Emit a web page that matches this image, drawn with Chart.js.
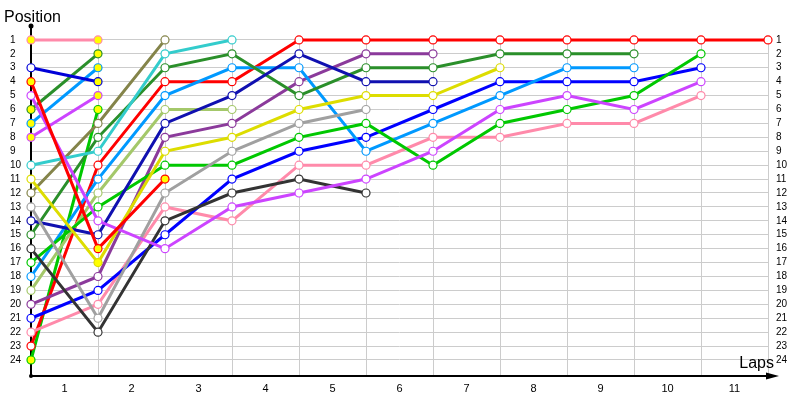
<!DOCTYPE html>
<html>
<head>
<meta charset="utf-8">
<script src="https://cdn.jsdelivr.net/npm/chart.js@4.4.0/dist/chart.umd.min.js"></script>
<style>
  html, body { margin: 0; padding: 0; background: #fff; }
  #wrap { width: 800px; height: 400px; }
</style>
</head>
<body>
<div id="wrap"><canvas id="lap_chart"></canvas></div>
<script>
const laps = [0, 1, 2, 3, 4, 5, 6, 7, 8, 9, 10, 11];   // lap 0 = starting grid
const lapLabels = ['1', '2', '3', '4', '5', '6', '7', '8', '9', '10', '11'];
const positions = [1, 2, 3, 4, 5, 6, 7, 8, 9, 10, 11, 12, 13, 14, 15, 16, 17, 18, 19, 20, 21, 22, 23, 24];

// position of each car at the end of each lap
const pinkA   = [1, 1];
const navyA   = [3, 4];
const redA    = [4, 16, 11];
const violetA = [5, 14, 16, 13, 12, 11, 9, 6, 5, 6, 4];
const forestA = [6, 2];
const skyA    = [7, 3];
const violetB = [8, 5];
const cyanA   = [10, 9, 2, 1];
const yellowA = [11, 17, 9, 8, 6, 5, 5, 3];
const oliveA  = [12, 7, 1];
const greyA   = [13, 21, 12, 9, 7, 6];
const navyB   = [14, 15, 7, 5, 2, 4, 4];
const forestB = [15, 8, 3, 2, 5, 3, 3, 2, 2, 2];
const blackA  = [16, 22, 14, 12, 11, 12];
const limeA   = [17, 13, 10, 10, 8, 7, 10, 7, 6, 5, 2];
const skyB    = [18, 11, 5, 3, 3, 9, 7, 5, 3, 3];
const sageA   = [19, 12, 6, 6];
const purpleA = [20, 18, 8, 7, 4, 2, 2];
const blueA   = [21, 19, 15, 11, 9, 8, 6, 4, 4, 4, 3];
const pinkB   = [22, 20, 13, 14, 10, 10, 8, 8, 7, 7, 5];
const redB    = [23, 10, 4, 4, 1, 1, 1, 1, 1, 1, 1, 1];
const limeB   = [24, 6];

// laps where the car is flagged (yellow dot)
const pinkAFlag   = [0, 1];
const navyAFlag   = [1];
const redAFlag    = [0, 1, 2];
const forestAFlag = [0, 1];
const skyAFlag    = [0, 1];
const violetBFlag = [0, 1];
const yellowAFlag = [1];
const limeBFlag   = [0, 1];

const cars = [
  { data: pinkA,   flag: pinkAFlag,   color: '#ff8aaa' },
  { data: navyA,   flag: navyAFlag,   color: '#0000d8' },
  { data: redA,    flag: redAFlag,    color: '#ff0000' },
  { data: violetA, flag: [],          color: '#cc44ff' },
  { data: forestA, flag: forestAFlag, color: '#2a8f2a' },
  { data: skyA,    flag: skyAFlag,    color: '#0099ff' },
  { data: violetB, flag: violetBFlag, color: '#cc44ff' },
  { data: cyanA,   flag: [],          color: '#33cccc' },
  { data: yellowA, flag: yellowAFlag, color: '#dddd00' },
  { data: oliveA,  flag: [],          color: '#84844a' },
  { data: greyA,   flag: [],          color: '#a0a0a0' },
  { data: navyB,   flag: [],          color: '#1010b0' },
  { data: forestB, flag: [],          color: '#2a8f2a' },
  { data: blackA,  flag: [],          color: '#333333' },
  { data: limeA,   flag: [],          color: '#00c800' },
  { data: skyB,    flag: [],          color: '#0099ff' },
  { data: sageA,   flag: [],          color: '#a4c86a' },
  { data: purpleA, flag: [],          color: '#8b3a9b' },
  { data: blueA,   flag: [],          color: '#0000ff' },
  { data: pinkB,   flag: [],          color: '#ff8aaa' },
  { data: redB,    flag: [],          color: '#ff0000' },
  { data: limeB,   flag: limeBFlag,   color: '#00c800' }
];

const datasets = cars.map(c => ({
  data: c.data.map((p, i) => ({ x: laps[i], y: p })),
  borderColor: c.color,
  borderWidth: 3,
  pointRadius: 4,
  pointBorderWidth: 1.2,
  pointBorderColor: c.color,
  pointBackgroundColor: c.data.map((p, i) => c.flag.includes(i) ? '#ffff00' : '#ffffff'),
  tension: 0,
  clip: false
}));

// axis lines, arrow, vertical grid and the two titles
const lapAxes = {
  id: 'lapAxes',
  beforeDatasetsDraw(chart) {
    const { ctx, chartArea, scales: { x, y } } = chart;
    ctx.save();
    ctx.strokeStyle = '#cccccc';
    ctx.lineWidth = 1;
    laps.slice(1).forEach(l => {
      const px = Math.round(x.getPixelForValue(l)) + 0.5;
      ctx.beginPath();
      ctx.moveTo(px, y.getPixelForValue(1));
      ctx.lineTo(px, chartArea.bottom);
      ctx.stroke();
    });
    const x0 = chartArea.left, y0 = chartArea.bottom;
    ctx.strokeStyle = '#000';
    ctx.fillStyle = '#000';
    ctx.lineWidth = 2;
    ctx.beginPath();
    ctx.moveTo(x0, chartArea.top);
    ctx.lineTo(x0, y0);
    ctx.lineTo(chartArea.right + 4, y0);
    ctx.stroke();
    ctx.beginPath();
    ctx.moveTo(chartArea.right + 11, y0);
    ctx.lineTo(chartArea.right - 2, y0 - 3.5);
    ctx.lineTo(chartArea.right - 2, y0 + 3.5);
    ctx.closePath();
    ctx.fill();
    ctx.beginPath(); ctx.arc(x0, chartArea.top, 2.5, 0, Math.PI * 2); ctx.fill();
    ctx.beginPath(); ctx.arc(x0, y0, 2, 0, Math.PI * 2); ctx.fill();
    ctx.font = '16px "Liberation Sans"';
    ctx.textBaseline = 'alphabetic';
    ctx.textAlign = 'left';
    ctx.fillText('Position', 4, 21.5);
    ctx.textAlign = 'right';
    ctx.fillText('Laps', chartArea.right + 6, y0 - 8);
    ctx.restore();
  }
};

const posTicks = scale => { scale.ticks = positions.map(p => ({ value: p })); };

const ctx_lap = document.getElementById('lap_chart');
const myChart_lap = new Chart(ctx_lap, {
  type: 'line',
  data: { datasets: datasets },
  options: {
    responsive: true,
    maintainAspectRatio: false,
    animation: false,
    events: [],
    layout: { padding: { left: 10, top: 26, right: 0, bottom: 0 } },
    plugins: { legend: { display: false }, tooltip: { enabled: false } },
    scales: {
      x: {
        type: 'linear',
        min: 0,
        max: 11,
        afterBuildTicks: scale => { scale.ticks = lapLabels.map((t, i) => ({ value: i + 0.5 })); },
        afterFit: scale => { scale.height = 24; },
        ticks: {
          autoSkip: false,
          maxRotation: 0,
          padding: 6,
          color: '#000',
          font: { family: 'Liberation Sans', size: 11 },
          callback: (v, i) => lapLabels[i]
        },
        grid: { display: false, drawTicks: false },
        border: { display: false }
      },
      y: {
        position: 'left',
        reverse: true,
        min: 0,
        max: 25.15,
        afterBuildTicks: posTicks,
        afterFit: scale => { scale.width = 21; },
        ticks: {
          autoSkip: false,
          crossAlign: 'far',
          color: '#000',
          font: { family: 'Liberation Sans', size: 10 }
        },
        grid: { color: '#cccccc', lineWidth: 1, drawTicks: false },
        border: { display: false }
      },
      y2: {
        position: 'right',
        display: true,
        reverse: true,
        min: 0,
        max: 25.15,
        afterBuildTicks: posTicks,
        afterFit: scale => { scale.width = 32; },
        ticks: {
          autoSkip: false,
          padding: 8,
          color: '#000',
          font: { family: 'Liberation Sans', size: 10 }
        },
        grid: { display: false, drawTicks: false },
        border: { display: false }
      }
    }
  },
  plugins: [lapAxes]
});
</script>
</body>
</html>
